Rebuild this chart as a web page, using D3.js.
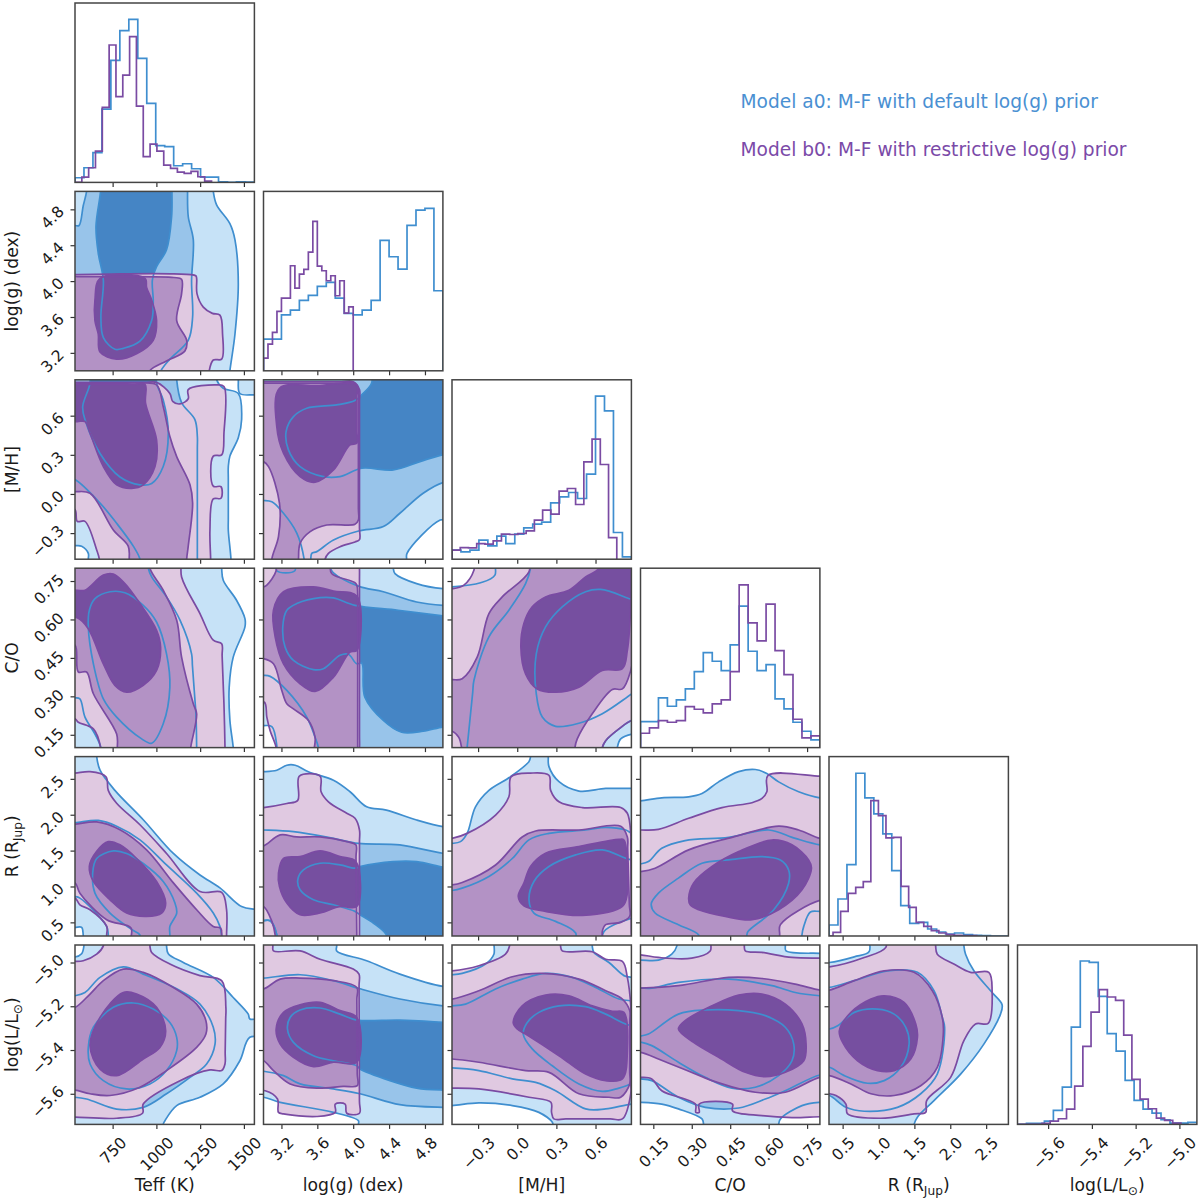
<!DOCTYPE html>
<html>
<head>
<meta charset="utf-8">
<script src="https://cdn.jsdelivr.net/npm/d3@7"></script>
<style>
  html, body { margin: 0; padding: 0; background: #fff; }
  svg { display: block; }
  text { font-family: "DejaVu Sans", sans-serif; fill: #1a1a1a; }
</style>
</head>
<body>
<script>
// Parameters, diagonal order
var paramKeys = ['teff', 'logg', 'mh', 'co', 'r', 'lum'];
var domainTeff = [535, 1560], domainLogg = [3, 5], domainMh = [-0.5, 0.875];
var domainCo = [0.1, 0.8], domainR = [0.31, 2.81], domainLum = [-5.74, -4.92];
var ticksTeff = [750, 1000, 1250, 1500];
var ticksLogg = [3.2, 3.6, 4.0, 4.4, 4.8];
var ticksMh = [-0.3, 0, 0.3, 0.6];
var ticksCo = [0.15, 0.30, 0.45, 0.60, 0.75];
var ticksR = [0.5, 1, 1.5, 2, 2.5];
var ticksLum = [-5.6, -5.4, -5.2, -5.0];
var legendLabels = ['Model a0: M-F with default log(g) prior', 'Model b0: M-F with restrictive log(g) prior'];

// Histogram bin ranges and heights (relative height out of 538)
var binsTeffA = [535, 1560], binsTeffB = [535, 1315];
var binsLoggA = [3, 5], binsLoggB = [3, 4];
var binsMhA = [-0.5, 0.875], binsMhB = [-0.5, 0.763];
var binsCoA = [0.1, 0.8], binsCoB = [0.1, 0.8];
var binsRA = [0.31, 2.81], binsRB = [0.261, 2.368];
var binsLumA = [-5.74, -4.92], binsLumB = [-5.74, -4.993];
var histTeffA = [14, 44, 89, 220, 366, 455, 489, 372, 237, 110, 107, 50, 56, 41, 16, 16, 2, 0, 2, 1];
var histTeffB = [0, 16, 44, 94, 225, 412, 257, 322, 437, 229, 77, 115, 94, 52, 42, 31, 27, 33, 17, 4];
var histLoggA = [95, 95, 168, 182, 211, 226, 253, 265, 218, 172, 168, 182, 211, 391, 342, 305, 436, 482, 487, 240];
var histLoggB = [38, 80, 115, 178, 218, 218, 315, 248, 290, 304, 356, 448, 314, 300, 270, 285, 225, 270, 173, 192];
var histMhA = [27, 22, 27, 57, 40, 69, 47, 75, 94, 105, 111, 169, 187, 200, 182, 255, 489, 445, 80, 7];
var histMhB = [27, 35, 34, 47, 45, 55, 75, 74, 77, 85, 117, 147, 135, 204, 212, 164, 292, 360, 284, 65];
var histCoA = [78, 78, 149, 124, 143, 176, 228, 285, 259, 231, 308, 424, 289, 231, 249, 146, 116, 76, 49, 23];
var histCoB = [43, 59, 81, 76, 81, 123, 115, 104, 131, 143, 228, 488, 374, 320, 430, 291, 219, 85, 29, 35];
var histRA = [33, 111, 214, 488, 414, 366, 306, 196, 91, 38, 41, 21, 12, 6, 9, 4, 2, 1, 0, 0];
var histRB = [0, 11, 74, 128, 146, 163, 406, 361, 294, 296, 149, 86, 41, 29, 16, 9, 4, 2, 1, 1];
var histLumA = [0, 3, 3, 10, 42, 112, 292, 490, 486, 384, 272, 220, 132, 72, 46, 34, 14, 4, 4, 6];
var histLumB = [0, 0, 0, 3, 10, 17, 46, 115, 234, 337, 404, 382, 372, 268, 135, 76, 47, 19, 12, 4];

// Contours: [outer, middle, inner] rings in data units, [x, y]. Rings run past the axes where the level is cut off.
// row logg
var aLoggTeff = [
  [[480,5.1],[1320,5.1],[1325,5.0],[1344,4.85],[1420,4.64],[1449,4.46],[1468,3.97],[1449,3.41],[1420,3.0],[1415,2.9],[480,2.9]],
  [[601,5.1],[601,5],[582,4.84],[558,4.62],[535,4.62],[480,4.62],[480,2.9],[1015,2.9],[1026,3.0],[1077,3.13],[1182,3.34],[1207,3.6],[1201,4.0],[1211,4.46],[1182,4.72],[1178,5],[1178,5.1]],
  [[681,5.1],[681,5],[655,4.61],[668,4.31],[697,4.01],[683,3.6],[697,3.37],[763,3.24],[811,3.25],[906,3.33],[973,3.56],[982,3.78],[977,4.01],[1001,4.16],[1058,4.35],[1087,4.72],[1089,5],[1089,5.1]]
];
var bLoggTeff = [
  [[480,4.07],[800,4.08],[1100,4.08],[1225,4.06],[1230,4.03],[1232,3.86],[1268,3.71],[1320,3.64],[1363,3.62],[1378,3.41],[1373,3.13],[1325,3.12],[1302,3.0],[1300,2.9],[480,2.9]],
  [[480,4.05],[800,4.05],[1100,4.04],[1144,4.02],[1144,3.86],[1116,3.56],[1173,3.34],[1163,3.22],[1058,3.11],[963,3.0],[960,2.9],[480,2.9]],
  [[678,4.03],[935,4.03],[944,3.93],[973,3.79],[1001,3.56],[982,3.34],[887,3.19],[773,3.13],[678,3.21],[668,3.41],[649,3.56],[649,3.79]]
];
// row [M/H]
var aMhTeff = [
  [[480,1],[1340,1],[1344,.875],[1382,.81],[1468,.77],[1487,.57],[1468,.43],[1420,.29],[1411,.21],[1411,-.28],[1426,-.5],[1426,-.6],[611,-.6],[611,-.5],[611,-.455],[573,-.4],[535,-.396],[480,-.396]],
  [[480,1],[1116,1],[1116,.875],[1144,.7],[1220,.57],[1234,.44],[1234,-.5],[1234,-.6],[906,-.6],[906,-.5],[868,-.4],[773,-.225],[678,-.07],[535,.11],[480,.13]],
  [[621,1],[621,.85],[579,.67],[592,.57],[678,.31],[792,.13],[906,.07],[973,.08],[1039,.21],[1068,.465],[1039,.72],[1001,.85],[1001,1]],
  [[1468,1],[1468,.875],[1477,.77],[1560,.76],[1650,.76],[1650,1]]
];
var bMhTeff = [
  [[480,.855],[1001,.855],[1077,.77],[1093,.71],[1135,.69],[1182,.73],[1182,.8],[1344,.836],[1386,.824],[1386,.465],[1373,.3],[1325,.29],[1325,.06],[1369,.056],[1369,-.033],[1325,-.038],[1306,-.276],[1310,-.5],[1310,-.6],[674,-.6],[674,-.5],[659,-.43],[592,-.21],[548,-.21],[535,-.12],[480,-.1]],
  [[480,.85],[900,.85],[1001,.836],[1039,.67],[1077,.44],[1116,.286],[1192,.07],[1207,-.07],[1182,-.4],[1173,-.5],[1173,-.6],[845,-.6],[845,-.5],[839,-.4],[754,-.276],[621,.005],[535,.018],[480,.02]],
  [[480,.84],[935,.84],[938,.696],[1001,.414],[992,.21],[925,.07],[859,.043],[773,.07],[697,.21],[621,.465],[592,.555],[548,.555],[480,.56]]
];
var aMhLogg = [
  [[2.9,1],[5.1,1],[5.1,-.2],[4.97,-.2],[4.6,-.455],[4.595,-.5],[4.59,-.6],[2.9,-.6]],
  [[2.9,1],[5.1,1],[5.1,.09],[5,.087],[4.78,.005],[4.52,-.148],[4.336,-.25],[4.06,-.284],[3.78,-.353],[3.594,-.442],[3.538,-.455],[3.527,-.5],[3.52,-.6],[3.46,-.6],[3.453,-.5],[3.371,-.3],[3.223,-.148],[3.093,-.06],[3,-.05],[2.9,-.05]],
  [[4.206,1],[5.1,1],[5.1,.3],[5,.3],[4.744,.248],[4.447,.184],[4.095,.197],[3.853,.133],[3.668,.133],[3.408,.21],[3.278,.338],[3.252,.478],[3.334,.593],[3.482,.657],[3.816,.683],[4.02,.716],[4.095,.76],[4.206,.85]]
];
var bMhLogg = [
  [[2.9,.86],[4.0,.86],[4.07,.8],[4.07,-.35],[4.02,-.368],[3.853,-.404],[3.724,-.455],[3.686,-.5],[3.68,-.6],[2.9,-.6]],
  [[2.9,.85],[4.0,.85],[4.058,.8],[4.058,-.2],[4.02,-.233],[3.705,-.238],[3.52,-.289],[3.408,-.379],[3.39,-.5],[3.38,-.6],[3.1,-.6],[3.093,-.5],[3.167,-.327],[3.178,-.07],[3.056,.21],[3,.248],[2.9,.25]],
  [[3.178,.81],[3.6,.83],[4.04,.836],[4.04,.389],[3.965,.376],[3.78,.184],[3.575,.09],[3.408,.133],[3.223,.312],[3.148,.517]]
];
// row C/O
var aCoTeff = [
  [[480,.85],[1370,.85],[1373,.8],[1382,.753],[1458,.675],[1506,.603],[1506,.571],[1439,.453],[1416,.336],[1420,.206],[1439,.1],[1442,.05],[480,.05]],
  [[480,.85],[950,.85],[954,.8],[973,.766],[1058,.688],[1135,.597],[1201,.466],[1226,.232],[1230,.1],[1230,.05],[683,.05],[683,.1],[649,.153],[592,.219],[563,.29],[535,.294],[480,.294]],
  [[611,.571],[617,.636],[649,.681],[735,.708],[820,.704],[925,.655],[1001,.59],[1058,.466],[1077,.336],[1039,.193],[973,.117],[916,.134],[773,.219],[697,.29],[640,.427]]
];
var bCoTeff = [
  [[480,.85],[1135,.85],[1144,.766],[1249,.623],[1325,.519],[1373,.505],[1386,.271],[1392,.1],[1392,.05],[681,.05],[681,.1],[640,.173],[554,.199],[535,.212],[480,.21]],
  [[480,.85],[963,.85],[963,.8],[1039,.714],[1116,.597],[1144,.453],[1211,.271],[1230,.232],[1196,.1],[1190,.05],[777,.05],[777,.1],[773,.153],[640,.31],[601,.395],[554,.395],[535,.5],[480,.5]],
  [[480,.714],[548,.714],[592,.714],[697,.773],[754,.777],[820,.74],[906,.662],[1001,.558],[1024,.492],[1001,.401],[925,.343],[830,.316],[763,.343],[697,.427],[611,.564],[548,.607],[480,.607]]
];
var aCoLogg = [
  [[2.9,.85],[4.44,.85],[4.447,.8],[4.466,.779],[4.707,.74],[5,.72],[5.1,.72],[5.1,.05],[3.15,.05],[3.148,.108],[3.093,.182],[3,.186],[2.9,.186]],
  [[2.9,.85],[3.148,.85],[3.148,.79],[3.35,.79],[3.35,.85],[3.74,.85],[3.76,.79],[4.058,.73],[4.336,.708],[4.707,.668],[5,.655],[5.1,.655],[5.1,.05],[3.612,.05],[3.612,.1],[3.575,.14],[3.482,.219],[3.26,.323],[3.074,.378],[3,.382],[2.9,.382]],
  [[3.215,.571],[3.26,.636],[3.371,.662],[3.631,.685],[3.78,.684],[4.02,.655],[4.5,.636],[5,.614],[5.1,.61],[5.1,.18],[5,.18],[4.78,.164],[4.54,.16],[4.336,.206],[4.13,.297],[4.095,.43],[4.04,.427],[3.946,.464],[3.853,.46],[3.668,.408],[3.557,.404],[3.334,.44],[3.241,.492]]
];
var bCoLogg = [
  [[2.9,.85],[4.06,.85],[4.07,.8],[4.07,.1],[4.05,.05],[3.141,.05],[3.141,.1],[3.074,.166],[3.037,.219],[3.011,.277],[2.9,.277]],
  [[2.9,.727],[3,.727],[3.037,.734],[3.141,.79],[3.141,.85],[3.72,.85],[3.76,.779],[4.03,.74],[4.05,.7],[4.05,.1],[4.05,.05],[3.575,.05],[3.575,.14],[3.501,.206],[3.334,.251],[3.26,.271],[3.204,.323],[3.111,.427],[3,.447],[2.9,.447]],
  [[3.111,.636],[3.223,.708],[3.557,.727],[3.78,.711],[4.04,.691],[4.04,.479],[3.965,.473],[3.78,.375],[3.575,.319],[3.408,.349],[3.223,.427],[3.13,.532]]
];
var aCoMh = [
  [[-.6,.727],[-.5,.727],[-.281,.743],[-.171,.773],[-.171,.85],[1,.85],[1,.153],[.88,.153],[.793,.134],[.767,.1],[.76,.05],[-.6,.05]],
  [[-.39,.05],[-.384,.1],[-.332,.362],[-.217,.532],[-.064,.636],[.064,.74],[.102,.8],[.102,.85],[1,.85],[1,.206],[.88,.206],[.78,.173],[.678,.127],[.652,.1],[.65,.05]],
  [[.844,.684],[.639,.717],[.524,.708],[.345,.649],[.217,.571],[.146,.466],[.146,.31],[.192,.219],[.294,.183],[.473,.195],[.652,.232],[.88,.31],[1,.35],[1,.65]]
];
var bCoMh = [
  [[-.6,.72],[-.5,.72],[-.409,.734],[-.332,.792],[-.325,.85],[1,.85],[1,.21],[.88,.206],[.78,.173],[.678,.127],[.652,.1],[.65,.05],[-.6,.05]],
  [[-.6,.365],[-.5,.365],[-.422,.369],[-.307,.453],[-.217,.623],[-.115,.688],[.09,.786],[.102,.85],[1,.85],[.9,.5],[.87,.401],[.806,.329],[.729,.327],[.575,.232],[.46,.134],[.442,.1],[.44,.05],[-.42,.05],[-.427,.1],[-.448,.14],[-.5,.164],[-.6,.164]],
  [[.627,.85],[.627,.8],[.524,.766],[.396,.714],[.217,.688],[.115,.649],[.051,.584],[.028,.492],[.064,.388],[.153,.329],[.294,.316],[.473,.336],[.652,.401],[.806,.408],[.844,.479],[.87,.662],[.87,.85]]
];
// row R
var aRTeff = [
  [[480,3],[655,3],[659,2.81],[678,2.62],[763,2.34],[925,1.93],[1097,1.46],[1249,1.16],[1363,.98],[1487,.72],[1560,.685],[1650,.68],[1650,.2],[585,.2],[582,.324],[573,.43],[535,.43],[480,.43]],
  [[480,1.89],[535,1.89],[668,1.92],[773,1.84],[906,1.65],[1058,1.3],[1230,.907],[1325,.63],[1363,.444],[1373,.324],[1375,.2],[725,.2],[725,.324],[716,.444],[563,.838],[535,.86],[480,.86]],
  [[636,1.185],[659,1.39],[754,1.495],[830,1.46],[925,1.32],[1039,1.07],[1106,.77],[1116,.63],[1077,.444],[1077,.324],[1075,.2],[906,.2],[906,.324],[859,.4],[735,.63],[649,.907]]
];
var bRTeff = [
  [[480,2.58],[535,2.58],[621,2.6],[712,2.53],[725,2.34],[773,2.16],[906,1.86],[1058,1.46],[1249,.93],[1373,.917],[1401,.676],[1401,.324],[1401,.2],[716,.2],[716,.324],[716,.444],[621,.676],[563,.745],[535,.838],[480,.84]],
  [[480,1.87],[535,1.87],[659,1.9],[792,1.79],[944,1.51],[1097,1.05],[1230,.676],[1325,.444],[1367,.42],[1373,.324],[1373,.2],[855,.2],[855,.42],[716,.537],[563,.907],[535,1.05],[480,1.05]],
  [[617,1.28],[659,1.49],[725,1.625],[792,1.58],[887,1.39],[1001,1.07],[1053,.77],[1030,.63],[944,.583],[830,.63],[735,.815],[640,1.07]]
];
var aRLogg = [
  [[2.9,2.6],[3,2.6],[3.148,2.62],[3.26,2.69],[3.353,2.69],[3.5,2.6],[3.78,2.48],[3.965,2.32],[4.15,2.11],[4.37,2.065],[4.707,1.926],[5,1.833],[5.1,1.83],[5.1,.2],[3.148,.2],[3.148,.324],[3.074,.523],[3,.523],[2.9,.523]],
  [[2.9,1.79],[3,1.787],[3.334,1.764],[3.78,1.67],[4.058,1.6],[4.52,1.58],[5,1.463],[5.1,1.46],[5.1,.2],[3.148,.2],[3.148,.324],[3.074,.523],[2.9,.523]],
  [[3.382,1.093],[3.445,1.23],[3.631,1.324],[3.853,1.3],[4.02,1.255],[4.076,1.278],[4.447,1.347],[4.707,1.347],[5,1.269],[5.1,1.26],[5.1,.2],[4.37,.2],[4.37,.324],[4.224,.49],[4.076,.606],[4.02,.653],[3.78,.745],[3.557,.815],[3.408,.954]]
];
var bRLogg = [
  [[2.9,2.09],[3,2.1],[3.26,2.157],[3.382,2.2],[3.4,2.537],[3.631,2.537],[3.642,2.32],[3.724,2.18],[3.928,2.02],[4.02,1.95],[4.07,1.787],[4.07,.324],[4.07,.2],[2.9,.2]],
  [[2.9,1.56],[3,1.565],[3.186,1.72],[3.37,1.69],[3.63,1.69],[3.93,1.625],[4.03,1.58],[4.04,.324],[4.04,.2],[3.13,.2],[3.13,.324],[3.093,.514],[3,.722],[2.9,.72]],
  [[3.167,1.185],[3.223,1.39],[3.408,1.417],[3.631,1.495],[3.853,1.417],[4.03,1.347],[4.04,.722],[3.853,.722],[3.631,.63],[3.408,.606],[3.26,.77],[3.178,1.0]]
];
var aRMh = [
  [[-.6,1.6],[-.5,1.6],[-.435,1.625],[-.384,1.74],[-.32,2.11],[-.217,2.34],[-.051,2.53],[.09,2.74],[.102,2.81],[.102,3],[.238,3],[.238,2.81],[.243,2.67],[.32,2.46],[.473,2.33],[.678,2.366],[.88,2.366],[1,2.366],[1,.2],[-.6,.2]],
  [[-.6,.94],[-.5,.944],[-.422,.977],[-.217,1.14],[-.038,1.39],[.09,1.65],[.243,1.74],[.524,1.787],[.678,1.824],[.831,1.787],[.88,1.74],[1,1.7],[1,.2],[-.6,.2]],
  [[.844,1.384],[.652,1.51],[.448,1.44],[.243,1.278],[.128,1.07],[.09,.815],[.128,.63],[.294,.514],[.448,.352],[.448,.2],[.652,.2],[.652,.324],[.678,.398],[.88,.56],[1,.6],[1,1.3]]
];
var bRMh = [
  [[-.6,1.66],[-.5,1.67],[-.384,1.74],[-.166,1.995],[-.064,2.25],[-.046,2.53],[.102,2.58],[.243,2.55],[.256,2.34],[.32,2.18],[.499,2.1],[.793,2.1],[.844,2.02],[.87,1.74],[.875,.2],[-.6,.2]],
  [[-.6,1.02],[-.5,1.023],[-.422,1.056],[-.166,1.3],[.038,1.69],[.141,1.773],[.473,1.787],[.793,1.84],[.844,1.69],[.862,.583],[.793,.5],[.678,.468],[.652,.375],[.652,.2],[-.6,.2]],
  [[.008,.861],[.051,1.046],[.102,1.278],[.217,1.463],[.473,1.556],[.78,1.657],[.818,1.648],[.844,1.278],[.844,.907],[.806,.722],[.499,.597],[.217,.653],[.051,.731]]
];
var aRCo = [
  [[.05,2.19],[.1,2.194],[.183,2.236],[.288,2.25],[.34,2.296],[.405,2.458],[.483,2.6],[.548,2.63],[.593,2.574],[.639,2.458],[.717,2.32],[.8,2.236],[.85,2.23],[.85,.2],[.05,.2]],
  [[.05,1.31],[.1,1.315],[.131,1.347],[.183,1.532],[.274,1.64],[.444,1.685],[.6,1.787],[.704,1.67],[.8,1.58],[.85,1.57],[.85,.65],[.8,.653],[.763,.644],[.737,.444],[.73,.324],[.73,.2],[.05,.2]],
  [[.142,.759],[.157,.63],[.248,.468],[.327,.324],[.327,.2],[.515,.2],[.515,.324],[.52,.375],[.62,.676],[.678,1.046],[.678,1.23],[.646,1.37],[.574,1.417],[.444,1.37],[.34,1.324],[.248,1.116],[.17,.907]]
];
var bRCo = [
  [[.05,1.787],[.1,1.787],[.17,1.796],[.288,1.95],[.418,2.1],[.535,2.167],[.574,2.227],[.593,2.32],[.597,2.546],[.8,2.537],[.85,2.537],[.85,.2],[.05,.2]],
  [[.05,1.2],[.1,1.208],[.157,1.255],[.288,1.51],[.457,1.685],[.639,1.84],[.717,1.787],[.8,1.67],[.85,1.65],[.85,.8],[.8,.806],[.646,.468],[.643,.324],[.64,.2],[.05,.2]],
  [[.288,.838],[.307,1.046],[.379,1.278],[.483,1.486],[.613,1.648],[.691,1.58],[.756,1.37],[.767,1.255],[.73,.954],[.639,.676],[.535,.537],[.431,.583],[.327,.676],[.294,.745]]
];
// row log(L/Lsun)
var aLumTeff = [
  [[480,-4.97],[535,-4.975],[573,-4.96],[586,-4.924],[586,-4.85],[1055,-4.85],[1058,-4.924],[1068,-4.96],[1154,-5.0],[1325,-5.068],[1439,-5.16],[1525,-5.236],[1534,-5.258],[1650,-5.258],[1650,-5.34],[1534,-5.342],[1477,-5.449],[1382,-5.555],[1249,-5.616],[1116,-5.654],[1049,-5.723],[1039,-5.74],[1035,-5.8],[480,-5.8]],
  [[480,-5.152],[535,-5.152],[592,-5.137],[678,-5.068],[811,-5.02],[925,-5.053],[1116,-5.12],[1249,-5.19],[1325,-5.296],[1335,-5.373],[1287,-5.464],[1192,-5.525],[1058,-5.6],[925,-5.662],[773,-5.67],[601,-5.624],[535,-5.616],[480,-5.616]],
  [[611,-5.388],[640,-5.296],[754,-5.205],[868,-5.185],[982,-5.213],[1077,-5.274],[1116,-5.342],[1116,-5.403],[1058,-5.494],[963,-5.555],[830,-5.578],[697,-5.54],[621,-5.464]]
];
var bLumTeff = [
  [[480,-4.995],[535,-4.995],[582,-4.992],[659,-4.962],[697,-4.924],[697,-4.85],[960,-4.85],[963,-4.924],[973,-4.954],[1077,-5.007],[1249,-5.06],[1373,-5.083],[1397,-5.205],[1392,-5.464],[1373,-5.494],[1306,-5.491],[1135,-5.54],[925,-5.647],[921,-5.689],[773,-5.712],[535,-5.707],[480,-5.707]],
  [[480,-5.205],[535,-5.205],[621,-5.144],[697,-5.083],[811,-5.03],[925,-5.045],[1097,-5.114],[1230,-5.19],[1283,-5.266],[1283,-5.327],[1230,-5.388],[1058,-5.494],[906,-5.57],[735,-5.608],[621,-5.6],[535,-5.583],[480,-5.583]],
  [[621,-5.38],[678,-5.251],[811,-5.137],[887,-5.144],[1001,-5.205],[1053,-5.312],[1020,-5.388],[925,-5.441],[773,-5.517],[678,-5.487]]
];
var aLumLogg = [
  [[2.9,-4.85],[3.81,-4.85],[3.816,-4.924],[3.816,-4.947],[4.15,-4.992],[4.52,-5.053],[5,-5.109],[5.1,-5.11],[5.1,-5.8],[4.06,-5.8],[4.058,-5.74],[4.058,-5.723],[3.78,-5.685],[3.186,-5.639],[3,-5.616],[2.9,-5.616]],
  [[2.9,-5.071],[3,-5.071],[3.408,-5.056],[3.78,-5.083],[4.076,-5.12],[4.52,-5.167],[5,-5.198],[5.1,-5.2],[5.1,-5.662],[5,-5.662],[4.52,-5.65],[4.076,-5.6],[3.78,-5.578],[3.408,-5.555],[3.223,-5.517],[3,-5.497],[2.9,-5.497]],
  [[3.267,-5.304],[3.297,-5.251],[3.408,-5.217],[3.631,-5.208],[3.853,-5.236],[4.04,-5.263],[4.52,-5.263],[5,-5.274],[5.1,-5.28],[5.1,-5.583],[5,-5.583],[4.707,-5.574],[4.41,-5.54],[4.076,-5.487],[4.04,-5.472],[3.78,-5.449],[3.557,-5.426],[3.334,-5.365]]
];
var bLumLogg = [
  [[2.9,-4.85],[3.1,-4.85],[3.104,-4.924],[3.111,-4.947],[3.408,-4.947],[3.631,-4.985],[4.0,-5.03],[4.065,-5.053],[4.07,-5.689],[3.928,-5.689],[3.91,-5.647],[3.8,-5.647],[3.8,-5.685],[3.594,-5.704],[3.223,-5.692],[3.167,-5.685],[3.156,-5.624],[3.02,-5.586],[2.9,-5.586]],
  [[2.9,-5.121],[3,-5.121],[3.186,-5.076],[3.408,-5.071],[3.78,-5.083],[4.04,-5.114],[4.046,-5.563],[3.89,-5.566],[3.594,-5.574],[3.297,-5.555],[3.111,-5.494],[3,-5.449],[2.9,-5.449]],
  [[3.141,-5.304],[3.223,-5.228],[3.408,-5.193],[3.631,-5.182],[3.853,-5.22],[4.04,-5.251],[4.04,-5.456],[3.78,-5.456],[3.557,-5.476],[3.334,-5.433],[3.186,-5.373]]
];
var aLumMh = [
  [[-.6,-5.056],[-.5,-5.056],[-.422,-5.05],[-.243,-5.007],[-.179,-4.962],[-.179,-4.85],[.575,-4.85],[.575,-4.924],[.588,-4.954],[.703,-5.0],[.818,-5.06],[.88,-5.068],[1,-5.07],[1,-5.8],[.274,-5.8],[.274,-5.74],[.269,-5.73],[.166,-5.685],[-.038,-5.654],[-.294,-5.642],[-.5,-5.654],[-.6,-5.654]],
  [[-.6,-5.198],[-.5,-5.198],[-.396,-5.19],[-.166,-5.121],[.038,-5.076],[.217,-5.05],[.422,-5.068],[.601,-5.114],[.78,-5.167],[.88,-5.175],[1,-5.18],[1,-5.647],[.88,-5.647],[.678,-5.669],[.524,-5.669],[.294,-5.586],[.141,-5.548],[-.038,-5.532],[-.294,-5.494],[-.5,-5.482],[-.6,-5.482]],
  [[.844,-5.284],[.678,-5.236],[.524,-5.202],[.32,-5.198],[.166,-5.228],[.077,-5.274],[.046,-5.327],[.115,-5.395],[.269,-5.472],[.473,-5.555],[.652,-5.589],[.78,-5.574],[.88,-5.555],[1,-5.54],[1,-5.3]]
];
var bLumMh = [
  [[-.6,-5.038],[-.5,-5.038],[-.294,-5.015],[-.09,-4.962],[-.059,-4.924],[-.059,-4.85],[.33,-4.85],[.332,-4.924],[.345,-4.947],[.575,-4.951],[.678,-4.985],[.806,-4.995],[.844,-5.068],[.87,-5.2],[.87,-5.6],[.806,-5.715],[.281,-5.715],[.263,-5.685],[.258,-5.639],[.09,-5.616],[-.294,-5.578],[-.5,-5.574],[-.6,-5.574]],
  [[-.6,-5.167],[-.5,-5.167],[-.294,-5.129],[-.038,-5.065],[.192,-5.05],[.473,-5.076],[.678,-5.129],[.806,-5.167],[.862,-5.22],[.862,-5.555],[.793,-5.616],[.703,-5.616],[.473,-5.6],[.243,-5.502],[.064,-5.494],[-.294,-5.456],[-.5,-5.441],[-.6,-5.441]],
  [[-.031,-5.274],[.038,-5.198],[.217,-5.149],[.396,-5.152],[.575,-5.198],[.729,-5.223],[.818,-5.228],[.844,-5.403],[.806,-5.532],[.678,-5.54],[.524,-5.51],[.32,-5.426],[.064,-5.327],[0,-5.304]]
];
var aLumCo = [
  [[.05,-4.989],[.1,-4.989],[.17,-4.989],[.222,-4.962],[.242,-4.924],[.242,-4.85],[.665,-4.85],[.665,-4.924],[.668,-4.947],[.8,-4.958],[.85,-4.96],[.85,-5.639],[.8,-5.639],[.73,-5.654],[.646,-5.715],[.639,-5.74],[.636,-5.8],[.346,-5.8],[.346,-5.74],[.34,-5.715],[.248,-5.669],[.183,-5.647],[.1,-5.639],[.05,-5.639]],
  [[.05,-5.117],[.1,-5.117],[.144,-5.117],[.248,-5.091],[.444,-5.076],[.613,-5.106],[.704,-5.137],[.8,-5.152],[.85,-5.155],[.85,-5.514],[.8,-5.514],[.665,-5.586],[.587,-5.624],[.483,-5.665],[.353,-5.662],[.248,-5.616],[.144,-5.54],[.1,-5.532],[.05,-5.532]],
  [[.05,-5.335],[.105,-5.335],[.131,-5.327],[.248,-5.236],[.353,-5.217],[.483,-5.22],[.587,-5.243],[.665,-5.296],[.698,-5.373],[.691,-5.449],[.639,-5.517],[.548,-5.57],[.457,-5.574],[.353,-5.525],[.248,-5.456],[.144,-5.38],[.105,-5.365],[.05,-5.365]]
];
var bLumCo = [
  [[.05,-4.965],[.1,-4.965],[.17,-4.977],[.3,-4.98],[.372,-4.947],[.375,-4.924],[.375,-4.85],[.505,-4.85],[.505,-4.924],[.509,-4.947],[.574,-4.954],[.691,-4.977],[.8,-4.98],[.85,-4.98],[.85,-5.705],[.8,-5.705],[.691,-5.709],[.574,-5.7],[.459,-5.678],[.459,-5.647],[.329,-5.647],[.329,-5.685],[.316,-5.685],[.314,-5.647],[.183,-5.586],[.144,-5.532],[.1,-5.525],[.05,-5.525]],
  [[.05,-5.117],[.1,-5.117],[.248,-5.106],[.444,-5.068],[.574,-5.073],[.704,-5.099],[.8,-5.126],[.85,-5.13],[.85,-5.525],[.8,-5.525],[.665,-5.593],[.548,-5.593],[.379,-5.54],[.17,-5.441],[.1,-5.411],[.05,-5.411]],
  [[.248,-5.304],[.274,-5.266],[.379,-5.198],[.483,-5.149],[.574,-5.144],[.665,-5.19],[.73,-5.281],[.746,-5.373],[.737,-5.449],[.665,-5.502],[.587,-5.522],[.509,-5.502],[.405,-5.433],[.307,-5.365]]
];
var aLumR = [
  [[.2,-5.0],[.315,-5.0],[.662,-4.974],[.87,-4.95],[.87,-4.85],[2.19,-4.85],[2.19,-4.924],[2.213,-4.962],[2.329,-5.038],[2.583,-5.137],[2.722,-5.193],[2.7,-5.236],[2.468,-5.373],[2.144,-5.51],[1.773,-5.631],[1.542,-5.707],[1.495,-5.74],[1.49,-5.8],[.2,-5.8]],
  [[.2,-5.114],[.315,-5.114],[.662,-5.083],[1.125,-5.038],[1.542,-5.045],[1.773,-5.129],[1.889,-5.251],[1.921,-5.296],[1.819,-5.51],[1.588,-5.6],[1.264,-5.662],[.801,-5.68],[.546,-5.662],[.315,-5.608],[.2,-5.608]],
  [[.2,-5.304],[.315,-5.304],[.431,-5.289],[.662,-5.228],[.986,-5.213],[1.218,-5.236],[1.38,-5.296],[1.426,-5.373],[1.31,-5.479],[1.079,-5.54],[.847,-5.552],[.523,-5.517],[.315,-5.479],[.2,-5.479]]
];
var bLumR = [
  [[.2,-5.02],[.315,-5.02],[.801,-4.977],[1.102,-4.931],[1.102,-4.85],[1.79,-4.85],[1.796,-4.924],[1.819,-4.962],[2.05,-5.007],[2.282,-5.045],[2.537,-5.045],[2.583,-5.129],[2.528,-5.278],[2.352,-5.281],[2.19,-5.357],[2.005,-5.525],[1.671,-5.631],[1.657,-5.685],[1.495,-5.692],[1.032,-5.712],[.569,-5.692],[.546,-5.647],[.407,-5.608],[.315,-5.6],[.2,-5.6]],
  [[.2,-5.126],[.315,-5.126],[.662,-5.083],[1.079,-5.038],[1.495,-5.045],[1.75,-5.129],[1.889,-5.251],[1.903,-5.327],[1.819,-5.479],[1.588,-5.563],[1.218,-5.608],[.894,-5.6],[.616,-5.555],[.315,-5.517],[.2,-5.517]],
  [[.454,-5.312],[.616,-5.228],[.894,-5.167],[1.079,-5.152],[1.356,-5.182],[1.519,-5.281],[1.542,-5.342],[1.449,-5.441],[1.218,-5.494],[.986,-5.494],[.708,-5.449],[.5,-5.365]]
];

// Lookup tables built from the arrays above
var domains = [domainTeff, domainLogg, domainMh, domainCo, domainR, domainLum];
var tickValues = [ticksTeff, ticksLogg, ticksMh, ticksCo, ticksR, ticksLum];
var tickFormats = [d3.format('d'), d3.format('.1f'), d3.format('.1f'), d3.format('.2f'), d3.format('.1f'), d3.format('.1f')];
var histsA = [histTeffA, histLoggA, histMhA, histCoA, histRA, histLumA];
var histsB = [histTeffB, histLoggB, histMhB, histCoB, histRB, histLumB];
var binsA = [binsTeffA, binsLoggA, binsMhA, binsCoA, binsRA, binsLumA];
var binsB = [binsTeffB, binsLoggB, binsMhB, binsCoB, binsRB, binsLumB];
var contoursA = [[], [aLoggTeff], [aMhTeff, aMhLogg], [aCoTeff, aCoLogg, aCoMh], [aRTeff, aRLogg, aRMh, aRCo], [aLumTeff, aLumLogg, aLumMh, aLumCo, aLumR]];
var contoursB = [[], [bLoggTeff], [bMhTeff, bMhLogg], [bCoTeff, bCoLogg, bCoMh], [bRTeff, bRLogg, bRMh, bRCo], [bLumTeff, bLumLogg, bLumMh, bLumCo, bLumR]];

// Layout and colours
var width = 1200, height = 1199;
var left = 75, top0 = 3, pitchX = 188.5, pitchY = 188.4, size = 179.4;
var fillsA = ['#c6e2f7', '#98c4ea', '#4585c5'], fillsB = ['#e0c9e1', '#b392c5', '#764fa0'];
var lineA = '#3f8ecf', lineB = '#7a4ba3';
var histMax = 538;

var svg = d3.select('body').append('svg').attr('width', width).attr('height', height);

var panelX = function(c) { return left + c * pitchX; };
var panelY = function(r) { return top0 + r * pitchY; };
var xScale = function(c) { return d3.scaleLinear().domain(domains[c]).range([0, size]); };
var yScale = function(r) { return d3.scaleLinear().domain(domains[r]).range([size, 0]); };

// Long straight edges bulge under the spline, so pin them near both ends (pixel space)
var pinLongEdges = function(ring, x, y) {
  let pts = ring.map(function(d) { return [x(d[0]), y(d[1])]; });
  let out = [];
  pts.forEach(function(p, k) {
    let q = pts[(k + 1) % pts.length];
    let len = Math.hypot(q[0] - p[0], q[1] - p[1]);
    out.push(p);
    if (len > 55) {
      let t = 12 / len;
      out.push([p[0] + (q[0] - p[0]) * t, p[1] + (q[1] - p[1]) * t]);
      out.push([q[0] - (q[0] - p[0]) * t, q[1] - (q[1] - p[1]) * t]);
    }
  });
  return out;
};
var ringPath = d3.line().curve(d3.curveCatmullRomClosed.alpha(0.5));

var drawFills = function(g, rings, fills, x, y) {
  rings.forEach(function(ring, k) {
    g.append('path').attr('d', ringPath(pinLongEdges(ring, x, y))).attr('fill', fills[k % 3]);
  });
};
var drawLines = function(g, rings, color, x, y) {
  rings.forEach(function(ring) {
    g.append('path').attr('d', ringPath(pinLongEdges(ring, x, y))).attr('fill', 'none')
      .attr('stroke', color).attr('stroke-width', 1.7).attr('stroke-linejoin', 'round');
  });
};

var drawStep = function(g, x, y, hist, bins, color) {
  let edge = d3.scaleLinear().domain([0, hist.length]).range(bins);
  let pts = [[edge(0), 0]];
  hist.forEach(function(h, k) { pts.push([edge(k), h]); });
  pts.push([edge(hist.length), hist[hist.length - 1]]);
  pts.push([edge(hist.length), 0]);
  let line = d3.line().x(function(d) { return x(d[0]); }).y(function(d) { return y(d[1]); }).curve(d3.curveStepAfter);
  g.append('path').attr('d', line(pts)).attr('fill', 'none')
    .attr('stroke', color).attr('stroke-width', 1.7);
};

// matplotlib-style frame and ticks, labels are placed separately
var styleAxis = function(a) {
  a.select('.domain').remove();
  a.selectAll('line').attr('stroke', '#333').attr('stroke-width', 1.2);
};
var rotatedBox = function(node) { return (node.getComputedTextLength() + 7) * 0.707; };

var drawPanel = function(r, c) {
  let g = svg.append('g').attr('transform', 'translate(' + panelX(c) + ',' + panelY(r) + ')');
  let clipId = 'clip-' + r + '-' + c;
  g.append('clipPath').attr('id', clipId).append('rect').attr('width', size).attr('height', size);
  let plot = g.append('g').attr('clip-path', 'url(#' + clipId + ')');
  let x = xScale(c);

  if (r === c) {
    let y = d3.scaleLinear().domain([0, histMax]).range([size, 0]);
    drawStep(plot, x, y, histsA[c], binsA[c], lineA);
    drawStep(plot, x, y, histsB[c], binsB[c], lineB);
  } else {
    let y = yScale(r);
    // filled regions first so both sets of outlines stay visible on top
    drawFills(plot, contoursA[r][c], fillsA, x, y);
    drawFills(plot, contoursB[r][c], fillsB, x, y);
    drawLines(plot, contoursA[r][c], lineA, x, y);
    drawLines(plot, contoursB[r][c], lineB, x, y);

    let yAxis = g.append('g').call(d3.axisLeft(y).tickValues(tickValues[r]).tickFormat(tickFormats[r]).tickSize(4.5));
    styleAxis(yAxis);
    if (c === 0) {
      yAxis.selectAll('text').attr('font-size', 15.6).attr('text-anchor', 'middle').attr('dy', '0.36em')
        .each(function() {
          let cx = -11.5 - rotatedBox(this) / 2, cy = 7.5;
          d3.select(this).attr('x', cx).attr('y', cy).attr('transform', 'rotate(-45 ' + cx + ' ' + cy + ')');
        });
    } else {
      yAxis.selectAll('text').remove();
    }
  }

  let xAxis = g.append('g').attr('transform', 'translate(0,' + size + ')')
    .call(d3.axisBottom(x).tickValues(tickValues[c]).tickFormat(tickFormats[c]).tickSize(4.5));
  styleAxis(xAxis);
  if (r === paramKeys.length - 1) {
    xAxis.selectAll('text').attr('font-size', 15.6).attr('text-anchor', 'middle').attr('dy', '0.36em')
      .each(function() {
        let cy = 13 + rotatedBox(this) / 2;
        d3.select(this).attr('x', 0).attr('y', cy).attr('transform', 'rotate(-45 0 ' + cy + ')');
      });
  } else {
    xAxis.selectAll('text').remove();
  }

  g.append('rect').attr('width', size).attr('height', size).attr('fill', 'none')
    .attr('stroke', '#444').attr('stroke-width', 1.5);
};

for (let r = 0; r < paramKeys.length; r++) {
  for (let c = 0; c <= r; c++) {
    drawPanel(r, c);
  }
}

// Axis titles, with subscripts where the units need them
var addTitle = function(sel, parts) {
  parts.forEach(function(p) {
    let t = sel.append('tspan').text(p.t);
    if (p.dy) t.attr('dy', p.dy);
    if (p.sub) t.attr('font-size', 12.2);
  });
};
var titleParts = [
  [{ t: 'Teff (K)' }],
  [{ t: 'log(g) (dex)' }],
  [{ t: '[M/H]' }],
  [{ t: 'C/O' }],
  [{ t: 'R (R' }, { t: 'Jup', sub: true, dy: 4 }, { t: ')', dy: -4 }],
  [{ t: 'log(L/L' }, { t: '\u2299', sub: true, dy: 4 }, { t: ')', dy: -4 }]
];
titleParts.forEach(function(parts, c) {
  let xt = svg.append('text').attr('x', panelX(c) + size / 2).attr('y', 1190.5)
    .attr('text-anchor', 'middle').attr('font-size', 17.2);
  addTitle(xt, parts);
  if (c > 0) {
    let cy = panelY(c) + size / 2;
    let yt = svg.append('text').attr('transform', 'translate(18,' + cy + ') rotate(-90)')
      .attr('text-anchor', 'middle').attr('font-size', 17.2);
    addTitle(yt, parts);
  }
});

// Legend
svg.append('text').attr('x', 740.5).attr('y', 108).attr('font-size', 18.6).style('fill', '#4a90d2').text(legendLabels[0]);
svg.append('text').attr('x', 740.5).attr('y', 156).attr('font-size', 18.6).style('fill', '#7b4aa8').text(legendLabels[1]);
</script>
</body>
</html>
